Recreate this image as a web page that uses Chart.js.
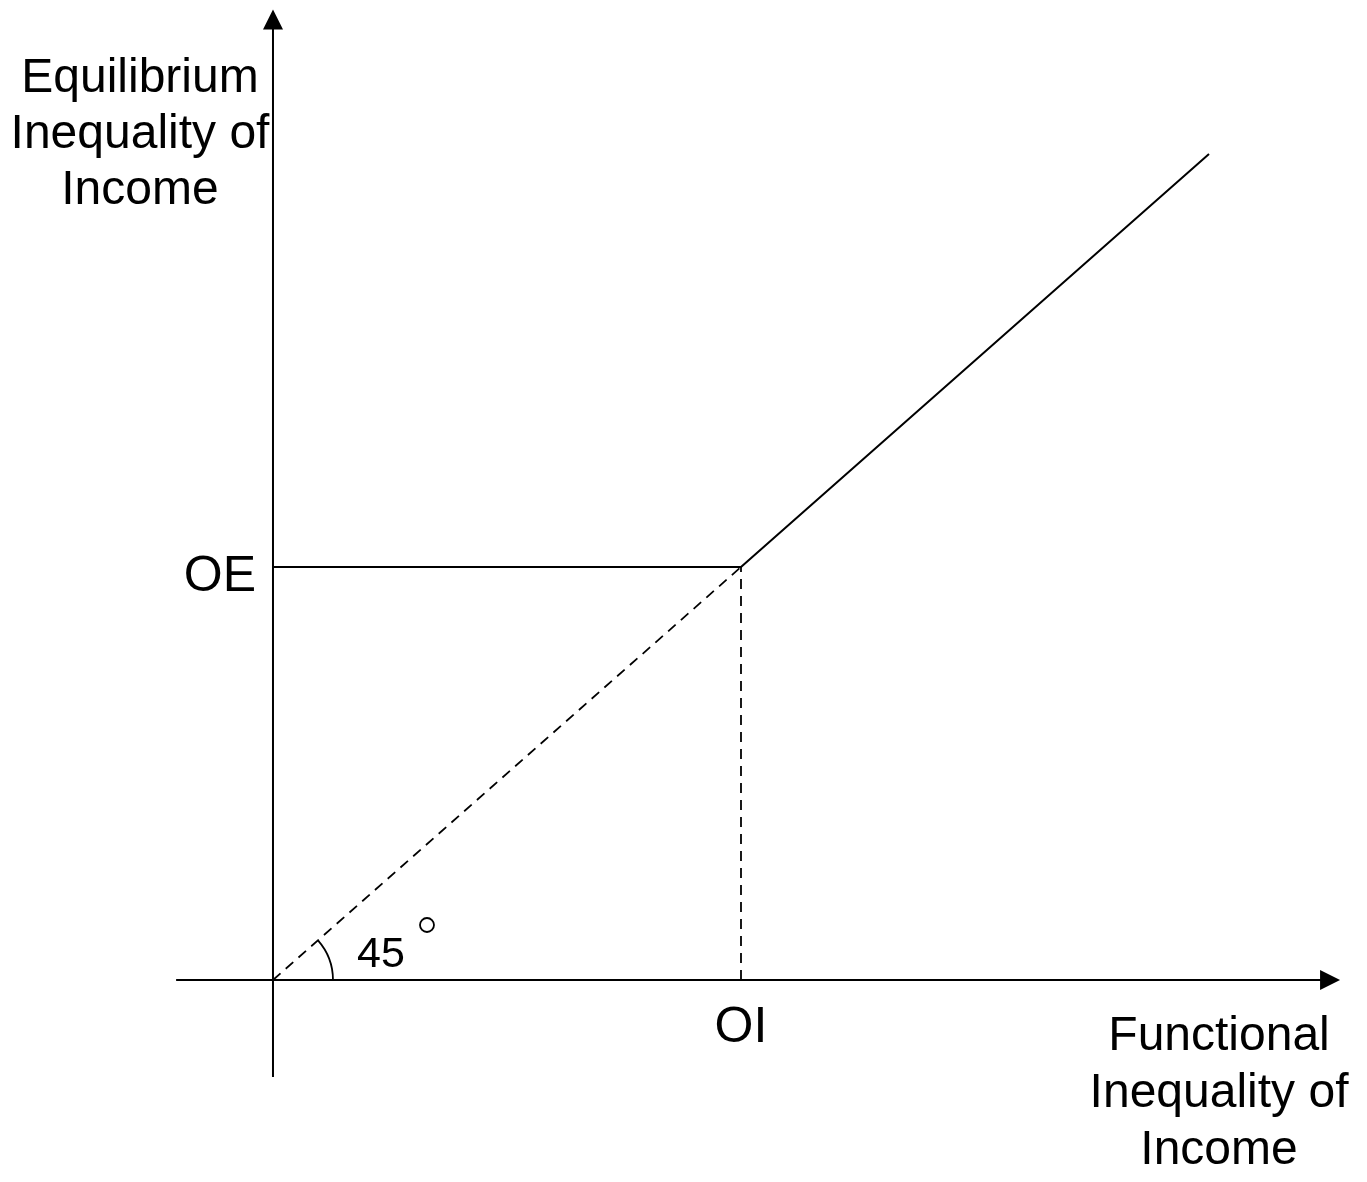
<!DOCTYPE html>
<html>
<head>
<meta charset="utf-8">
<title>Equilibrium vs Functional Inequality of Income</title>
<script src="https://cdn.jsdelivr.net/npm/chart.js@4.4.1/dist/chart.umd.min.js"></script>
<style>
  html, body { margin: 0; padding: 0; background: #fff; }
  #wrap { width: 1367px; height: 1182px; position: relative; }
</style>
</head>
<body>
<div id="wrap"><canvas id="incomeChart"></canvas></div>
<script>
// ================================
// DATA
// ================================

// kinked schedule: flat at OE until OI, then along the 45 degree line
let solidX = [0, 1, 2];
let solidY = [1, 1, 2];

// 45 degree reference line up to the kink
let diagX = [0, 1];
let diagY = [0, 1];

// drop line from the kink down to OI
let dropX = [1, 1];
let dropY = [0, 1];

// axis extents (data units)
let xAxisRange = [-0.207, 2.28];
let yAxisRange = [-0.235, 2.35];

// tick labels
let xTickValues = [1];
let xTickLabels = ["OI"];
let yTickValues = [1];
let yTickLabels = ["OE"];

// axis titles
let xTitle = ["Functional", "Inequality of", "Income"];
let yTitle = ["Equilibrium", "Inequality of", "Income"];
let angleLabel = "45";

function toPoints(xs, ys) {
  return xs.map((x, i) => ({ x: x, y: ys[i] }));
}

const FONT = "Liberation Sans, Arial, Helvetica, sans-serif";

// ================================
// AXES, ARROWS AND TEXT
// ================================

function arrowHead(c, x, y, dir) {
  c.beginPath();
  if (dir === "up") {
    c.moveTo(x, y);
    c.lineTo(x - 10, y + 20);
    c.lineTo(x + 10, y + 20);
  } else {
    c.moveTo(x, y);
    c.lineTo(x - 20, y - 10);
    c.lineTo(x - 20, y + 10);
  }
  c.closePath();
  c.fill();
}

const diagramPlugin = {
  id: "diagram",
  beforeDatasetsDraw(chart) {
    const c = chart.ctx;
    const xs = chart.scales.x, ys = chart.scales.y;
    const ox = xs.getPixelForValue(0), oy = ys.getPixelForValue(0);
    c.save();
    c.strokeStyle = "#000";
    c.fillStyle = "#000";
    c.lineWidth = 2;

    // x axis
    const xr = xs.getPixelForValue(xAxisRange[1]);
    c.beginPath();
    c.moveTo(xs.getPixelForValue(xAxisRange[0]), oy);
    c.lineTo(xr - 18, oy);
    c.stroke();
    arrowHead(c, xr, oy, "right");

    // y axis
    const yt = ys.getPixelForValue(yAxisRange[1]);
    c.beginPath();
    c.moveTo(ox, ys.getPixelForValue(yAxisRange[0]));
    c.lineTo(ox, yt + 18);
    c.stroke();
    arrowHead(c, ox, yt, "up");

    // 45 degree angle arc
    const ang = Math.atan2(oy - ys.getPixelForValue(diagY[1]), xs.getPixelForValue(diagX[1]) - ox);
    c.lineWidth = 1.8;
    c.beginPath();
    c.arc(ox, oy, 60, -ang, 0);
    c.stroke();
    c.restore();
  },
  afterDatasetsDraw(chart) {
    const c = chart.ctx;
    const xs = chart.scales.x, ys = chart.scales.y;
    const ox = xs.getPixelForValue(0), oy = ys.getPixelForValue(0);
    c.save();
    c.fillStyle = "#000";
    c.textAlign = "center";
    c.textBaseline = "middle";

    // tick labels
    c.font = "50px " + FONT;
    xTickValues.forEach((v, i) => {
      c.fillText(xTickLabels[i], xs.getPixelForValue(v), oy + 48);
    });
    yTickValues.forEach((v, i) => {
      c.fillText(yTickLabels[i], ox - 53, ys.getPixelForValue(v) + 10);
    });

    // axis titles
    c.font = "48px " + FONT;
    yTitle.forEach((t, i) => c.fillText(t, ox - 133, 79 + i * 56));
    xTitle.forEach((t, i) => c.fillText(t, xs.getPixelForValue(xAxisRange[1]) - 121, oy + 57 + i * 57));

    // angle label with degree mark
    c.font = "43px " + FONT;
    c.fillText(angleLabel, ox + 108, oy - 25);
    c.lineWidth = 1.8;
    c.strokeStyle = "#000";
    c.beginPath();
    c.arc(ox + 154, oy - 55, 7, 0, Math.PI * 2);
    c.stroke();
    c.restore();
  }
};

// ================================
// CHART
// ================================

let ctx = document.getElementById("incomeChart").getContext("2d");

let incomeChart = new Chart(ctx, {
  type: "line",
  data: {
    datasets: [
      {
        label: "Equilibrium inequality",
        data: toPoints(solidX, solidY),
        borderColor: "#000",
        borderWidth: 2,
        pointRadius: 0,
        fill: false,
        tension: 0
      },
      {
        label: "45 degree line",
        data: toPoints(diagX, diagY),
        borderColor: "#000",
        borderWidth: 1.8,
        borderDash: [10, 7],
        pointRadius: 0,
        fill: false
      },
      {
        label: "OI drop line",
        data: toPoints(dropX, dropY),
        borderColor: "#000",
        borderWidth: 1.8,
        borderDash: [10, 7],
        pointRadius: 0,
        fill: false
      }
    ]
  },
  options: {
    responsive: true,
    maintainAspectRatio: false,
    animation: false,
    layout: { padding: 0 },
    plugins: {
      legend: { display: false },
      tooltip: { enabled: false }
    },
    scales: {
      x: { type: "linear", display: false, min: -0.5833, max: 2.3376 },
      y: { type: "linear", display: false, min: -0.4891, max: 2.3729 }
    }
  },
  plugins: [diagramPlugin]
});
</script>
</body>
</html>
